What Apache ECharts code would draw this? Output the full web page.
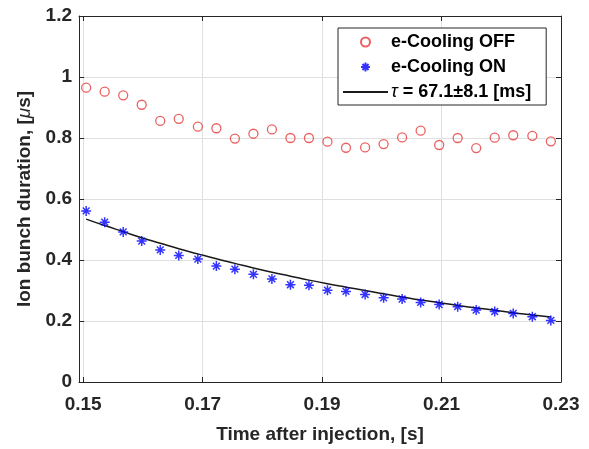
<!DOCTYPE html>
<html>
<head>
<meta charset="utf-8">
<script src="https://cdn.jsdelivr.net/npm/echarts@6/dist/echarts.min.js"></script>
<style>
  html, body { margin: 0; padding: 0; background: #fff; }
  #chart { width: 589px; height: 449px; }
</style>
</head>
<body>
<div id="chart"></div>
<script>
// time after injection, s
var timeS = [0.1505, 0.1536, 0.1567, 0.1598, 0.1629, 0.1660, 0.1692, 0.1723, 0.1754, 0.1785,
             0.1816, 0.1847, 0.1878, 0.1909, 0.1940, 0.1972, 0.2003, 0.2034, 0.2065, 0.2096,
             0.2127, 0.2158, 0.2189, 0.2220, 0.2252, 0.2283];
// bunch duration, us
var coolingOff = [0.965, 0.952, 0.940, 0.909, 0.856, 0.863, 0.837, 0.832, 0.798, 0.814,
                  0.828, 0.800, 0.800, 0.788, 0.768, 0.769, 0.780, 0.802, 0.824, 0.777,
                  0.800, 0.767, 0.801, 0.809, 0.807, 0.789];
var coolingOn = [0.561, 0.524, 0.492, 0.462, 0.433, 0.415, 0.403, 0.380, 0.370, 0.353,
                 0.338, 0.319, 0.317, 0.301, 0.297, 0.287, 0.276, 0.272, 0.261, 0.254,
                 0.247, 0.236, 0.231, 0.225, 0.214, 0.202];
// exponential fit curve
var fitCurve = [0.534, 0.513, 0.493, 0.473, 0.455, 0.437, 0.420, 0.404, 0.389, 0.374,
                0.360, 0.347, 0.334, 0.322, 0.311, 0.300, 0.289, 0.279, 0.269, 0.260,
                0.251, 0.243, 0.235, 0.227, 0.220, 0.213];
var xTicks = [0.15, 0.17, 0.19, 0.21, 0.23];
var seriesNames = ['e-Cooling OFF', 'e-Cooling ON', 'τ = 67.1±8.1 [ms]'];

function pairs(ys) {
    return ys.map(function (y, i) { return [timeS[i], y]; });
}

var font = 'Liberation Sans, Arial, Helvetica, sans-serif';
var axisColor = '#262626';
var gridColor = '#dfdfdf';
var asterisk = 'path://M5 0L5 10M0 5L10 5M1.6 1.6L8.4 8.4M1.6 8.4L8.4 1.6';

var chart = echarts.init(document.getElementById('chart'));

var xBase = {
    type: 'value',
    min: 0.1493,
    max: 0.23,
    axisLine: { show: true, onZero: false, lineStyle: { color: axisColor, width: 1 } },
    axisTick: { show: true, inside: true, length: 5, customValues: xTicks, lineStyle: { color: axisColor } },
    splitLine: { show: false }
};
var yBase = {
    type: 'value',
    min: 0,
    max: 1.2,
    interval: 0.2,
    axisLine: { show: true, onZero: false, lineStyle: { color: axisColor, width: 1 } },
    axisTick: { show: true, inside: true, length: 5, lineStyle: { color: axisColor } },
    splitLine: { show: false }
};

chart.setOption({
    backgroundColor: '#fff',
    animation: false,
    grid: { left: 79, right: 28, top: 16, bottom: 67, containLabel: false },
    legend: {
        data: [
            { name: seriesNames[0] },
            { name: seriesNames[1] },
            { name: seriesNames[2], itemStyle: { opacity: 0 } }
        ],
        orient: 'vertical',
        left: 338,
        top: 28,
        itemWidth: 45,
        itemHeight: 9,
        itemGap: 7,
        padding: [5, 15, 4, 4],
        backgroundColor: '#fff',
        borderColor: axisColor,
        borderWidth: 1,
        borderRadius: 0,
        selectedMode: false,
        formatter: function (name) {
            return name.replace('τ', '{i|τ}');
        },
        textStyle: {
            fontFamily: font,
            fontWeight: 'bold',
            fontSize: 18,
            color: '#000',
            padding: [0, 0, 0, -2],
            rich: {
                i: { fontFamily: font, fontStyle: 'italic', fontWeight: 'normal', fontSize: 18, color: '#000' }
            }
        }
    },
    xAxis: [
        Object.assign({}, xBase, {
            position: 'bottom',
            name: 'Time after injection, [s]',
            nameLocation: 'middle',
            nameGap: 43,
            nameTextStyle: { fontFamily: font, fontWeight: 'bold', fontSize: 19, color: '#262626' },
            axisLabel: {
                customValues: xTicks,
                margin: 13,
                fontFamily: font,
                fontWeight: 'bold',
                fontSize: 19,
                color: '#262626',
                formatter: function (v) { return v.toFixed(2); }
            },
            splitLine: { show: true, lineStyle: { color: gridColor, width: 1 } }
        }),
        Object.assign({}, xBase, { position: 'top', axisLabel: { show: false } })
    ],
    yAxis: [
        Object.assign({}, yBase, {
            position: 'left',
            name: 'Ion bunch duration, [{i|μ}s]',
            nameLocation: 'middle',
            nameGap: 44,
            nameTextStyle: {
                fontFamily: font, fontWeight: 'bold', fontSize: 19, color: '#262626',
                rich: { i: { fontFamily: font, fontStyle: 'italic', fontWeight: 'normal', fontSize: 19, color: '#262626' } }
            },
            axisLabel: {
                margin: 7,
                fontFamily: font,
                fontWeight: 'bold',
                fontSize: 19,
                color: '#262626',
                formatter: function (v) { return String(+v.toFixed(1)); }
            },
            splitLine: { show: true, lineStyle: { color: gridColor, width: 1 } }
        }),
        Object.assign({}, yBase, { position: 'right', axisLabel: { show: false } })
    ],
    series: [
        {
            name: seriesNames[0],
            type: 'scatter',
            symbol: 'circle',
            symbolSize: 9,
            itemStyle: { color: 'rgba(255,255,255,0)', borderColor: '#e63a3a', borderWidth: 1.3 },
            data: pairs(coolingOff)
        },
        {
            name: seriesNames[1],
            type: 'scatter',
            symbol: asterisk,
            symbolSize: 10,
            itemStyle: { color: 'none', borderColor: '#0000ff', borderWidth: 1.5 },
            data: pairs(coolingOn)
        },
        {
            name: seriesNames[2],
            type: 'line',
            symbol: 'none',
            showSymbol: false,
            smooth: true,
            lineStyle: { color: '#1a1a1a', width: 1.5 },
            data: pairs(fitCurve),
            z: 1
        }
    ]
});
</script>
</body>
</html>
